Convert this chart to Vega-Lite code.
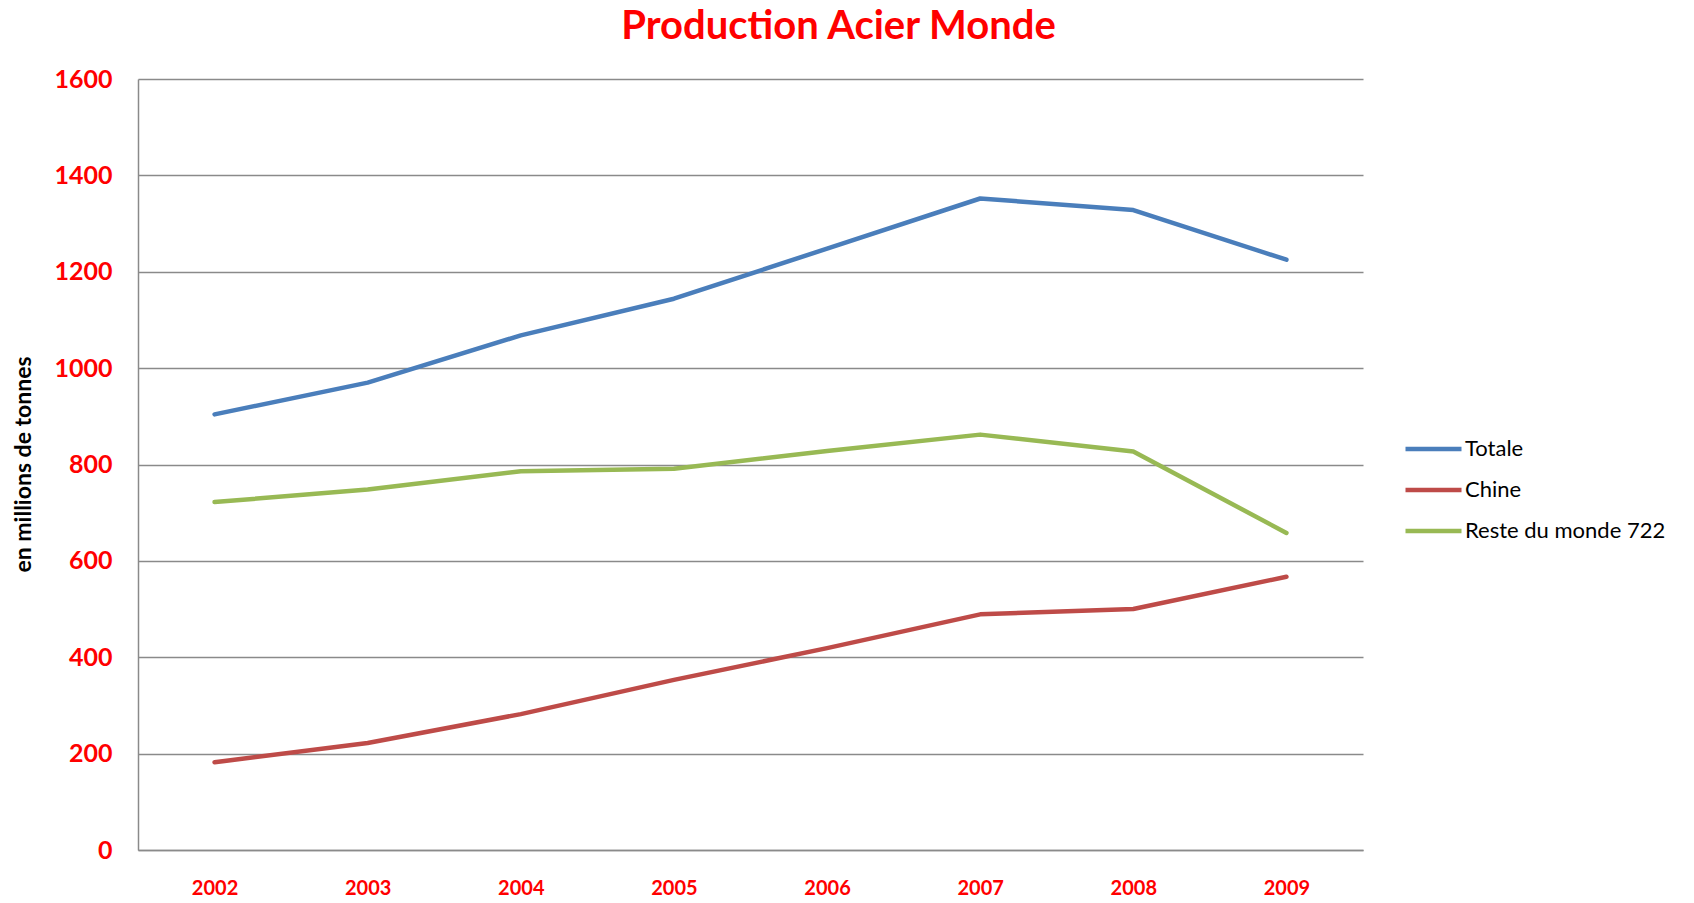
{
  "$schema": "https://vega.github.io/schema/vega-lite/v6.json",
  "autosize": {"type": "none"},
  "width": 1225,
  "height": 771,
  "padding": {"left": 138, "top": 79, "right": 331, "bottom": 53},
  "background": "white",
  "title": {
    "text": "Production Acier Monde",
    "anchor": "middle",
    "frame": "group",
    "dx": 88,
    "offset": 20,
    "font": "Lato",
    "fontSize": 40,
    "fontWeight": "bold",
    "color": "#ff0000"
  },
  "config": {
    "view": {"stroke": null},
    "font": "Lato"
  },
  "data": {
    "values": [
      {"year": "2002", "serie": "Totale", "value": 904},
      {"year": "2003", "serie": "Totale", "value": 970},
      {"year": "2004", "serie": "Totale", "value": 1068},
      {"year": "2005", "serie": "Totale", "value": 1144},
      {"year": "2006", "serie": "Totale", "value": 1248},
      {"year": "2007", "serie": "Totale", "value": 1352},
      {"year": "2008", "serie": "Totale", "value": 1328},
      {"year": "2009", "serie": "Totale", "value": 1225},
      {"year": "2002", "serie": "Chine", "value": 182},
      {"year": "2003", "serie": "Chine", "value": 222},
      {"year": "2004", "serie": "Chine", "value": 282},
      {"year": "2005", "serie": "Chine", "value": 353},
      {"year": "2006", "serie": "Chine", "value": 419},
      {"year": "2007", "serie": "Chine", "value": 489},
      {"year": "2008", "serie": "Chine", "value": 500},
      {"year": "2009", "serie": "Chine", "value": 567},
      {"year": "2002", "serie": "Reste du monde 722", "value": 722},
      {"year": "2003", "serie": "Reste du monde 722", "value": 748},
      {"year": "2004", "serie": "Reste du monde 722", "value": 786},
      {"year": "2005", "serie": "Reste du monde 722", "value": 791},
      {"year": "2006", "serie": "Reste du monde 722", "value": 828},
      {"year": "2007", "serie": "Reste du monde 722", "value": 862},
      {"year": "2008", "serie": "Reste du monde 722", "value": 827},
      {"year": "2009", "serie": "Reste du monde 722", "value": 658}
    ]
  },
  "mark": {"type": "line", "strokeWidth": 4.5, "strokeCap": "round", "strokeJoin": "round"},
  "encoding": {
    "x": {
      "field": "year",
      "type": "ordinal",
      "scale": {"type": "point", "padding": 0.5},
      "axis": {
        "title": null,
        "labelAngle": 0,
        "ticks": false,
        "grid": false,
        "domainColor": "#8a8a8a",
        "domainWidth": 1.5,
        "labelColor": "#ff0000",
        "labelFont": "Lato",
        "labelFontWeight": "bold",
        "labelFontSize": 20,
        "labelBaseline": "middle",
        "labelPadding": 38
      }
    },
    "y": {
      "field": "value",
      "type": "quantitative",
      "scale": {"domain": [0, 1600], "nice": false},
      "axis": {
        "title": "en millions de tonnes",
        "titleFont": "Lato",
        "titleFontSize": 23,
        "titleFontWeight": "bold",
        "titleColor": "#000000",
        "titleAngle": 270,
        "titleAlign": "center",
        "titleBaseline": "middle",
        "titleX": -115,
        "titleY": 385,
        "values": [0, 200, 400, 600, 800, 1000, 1200, 1400, 1600],
        "format": "d",
        "ticks": false,
        "grid": true,
        "gridColor": "#8a8a8a",
        "gridWidth": 1.5,
        "domainColor": "#8a8a8a",
        "domainWidth": 1.5,
        "labelColor": "#ff0000",
        "labelFont": "Lato",
        "labelFontWeight": "bold",
        "labelFontSize": 25,
        "labelPadding": 26
      }
    },
    "color": {
      "field": "serie",
      "type": "nominal",
      "scale": {
        "domain": ["Totale", "Chine", "Reste du monde 722"],
        "range": ["#4a7ebb", "#be4b48", "#98b954"]
      },
      "legend": {
        "title": null,
        "orient": "none",
        "legendX": 1265,
        "legendY": 360,
        "padding": 0,
        "symbolType": "stroke",
        "symbolSize": 3136,
        "symbolStrokeWidth": 4.5,
        "clipHeight": 20,
        "rowPadding": 19,
        "labelOffset": 1,
        "labelLimit": 400,
        "labelFont": "Lato",
        "labelFontSize": 22,
        "labelColor": "#000000"
      }
    }
  }
}
